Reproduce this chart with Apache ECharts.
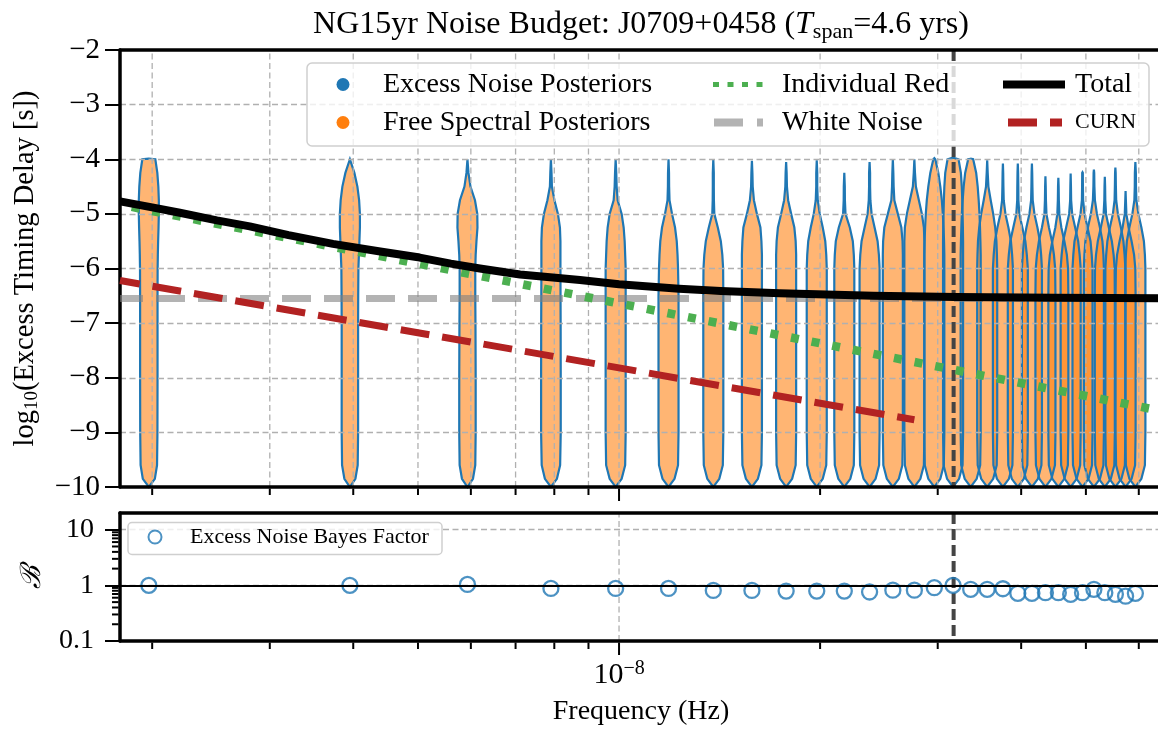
<!DOCTYPE html>
<html>
<head>
<meta charset="utf-8">
<title>NG15yr Noise Budget: J0709+0458</title>
<script src="https://cdn.jsdelivr.net/npm/echarts@6.0.0/dist/echarts.min.js"></script>
<style>
  html, body { margin: 0; padding: 0; background: #fff; overflow: hidden; }
  #chart { width: 1170px; height: 729px; }
</style>
</head>
<body>
<div id="chart"></div>
<script>
// ---------------- data ----------------
// Fourier bin frequencies (Hz)
const FREQS = [
  1.977e-9, 3.954e-9, 5.930e-9, 7.907e-9, 9.884e-9, 1.186e-8, 1.384e-8, 1.581e-8, 1.779e-8, 1.977e-8,
  2.174e-8, 2.372e-8, 2.570e-8, 2.768e-8, 2.965e-8, 3.163e-8, 3.361e-8, 3.558e-8, 3.756e-8, 3.954e-8,
  4.151e-8, 4.349e-8, 4.547e-8, 4.744e-8, 4.942e-8, 5.140e-8, 5.337e-8, 5.535e-8, 5.733e-8, 5.930e-8
];

// log10 delay levels at which the posterior densities are tabulated
const LEVELS = [-4.0, -4.25, -4.5, -4.75, -5.0, -5.25, -5.5, -5.75, -6.0, -6.5, -7.0, -8.0, -9.0, -9.6, -9.85, -10.0];

// upper end of each posterior (log10 delay)
const VIOLIN_TIP = [
  -3.99, -4.0, -4.0, -4.0, -4.0, -4.0, -4.0, -4.03, -4.05, -4.02,
  -4.25, -4.05, -4.0, -4.0, -3.98, -3.97, -3.99, -4.02, -4.08, -4.08,
  -4.08, -4.31, -4.34, -4.26, -4.24, -4.19, -4.32, -4.15, -4.58, -4.05
];

// relative posterior density at each level (1 = widest point)
const VIOLIN_PROFILES = [
  [0.65, 0.85, 0.95, 1.00, 1.00, 0.97, 0.93, 0.90, 0.88, 0.87, 0.87, 0.87, 0.86, 0.82, 0.60, 0],
  [0.05, 0.45, 0.75, 0.92, 1.00, 1.00, 0.95, 0.90, 0.85, 0.83, 0.82, 0.82, 0.82, 0.78, 0.55, 0],
  [0.03, 0.10, 0.30, 0.75, 0.98, 1.00, 0.90, 0.82, 0.78, 0.78, 0.80, 0.82, 0.82, 0.78, 0.55, 0],
  [0.03, 0.06, 0.10, 0.35, 0.70, 0.90, 0.95, 0.95, 0.95, 0.96, 0.97, 0.98, 0.98, 0.92, 0.60, 0],
  [0.03, 0.06, 0.10, 0.20, 0.60, 0.80, 0.90, 0.95, 1.00, 1.00, 1.00, 1.00, 1.00, 0.95, 0.60, 0],
  [0.03, 0.05, 0.06, 0.10, 0.35, 0.65, 0.82, 0.90, 0.95, 1.00, 1.00, 1.00, 1.00, 0.95, 0.60, 0],
  [0.03, 0.05, 0.05, 0.06, 0.10, 0.45, 0.75, 0.90, 0.98, 1.00, 1.00, 1.00, 1.00, 0.95, 0.60, 0],
  [0.03, 0.05, 0.08, 0.20, 0.50, 0.85, 0.95, 1.00, 1.00, 1.00, 1.00, 1.00, 1.00, 0.95, 0.60, 0],
  [0.03, 0.05, 0.08, 0.20, 0.50, 0.82, 0.95, 1.00, 1.00, 1.00, 1.00, 1.00, 1.00, 0.95, 0.60, 0],
  [0.03, 0.05, 0.05, 0.10, 0.30, 0.60, 0.85, 0.95, 1.00, 1.00, 1.00, 1.00, 1.00, 0.95, 0.60, 0],
  [0.00, 0.03, 0.05, 0.06, 0.12, 0.55, 0.85, 0.95, 1.00, 1.00, 1.00, 1.00, 1.00, 0.95, 0.60, 0],
  [0.03, 0.05, 0.05, 0.08, 0.20, 0.50, 0.80, 0.93, 1.00, 1.00, 1.00, 1.00, 1.00, 0.95, 0.60, 0],
  [0.03, 0.05, 0.08, 0.15, 0.50, 0.85, 0.97, 1.00, 1.00, 1.00, 1.00, 1.00, 1.00, 0.95, 0.60, 0],
  [0.03, 0.06, 0.15, 0.45, 0.75, 0.95, 1.00, 1.00, 1.00, 1.00, 1.00, 1.00, 1.00, 0.95, 0.60, 0],
  [0.10, 0.40, 0.60, 0.75, 0.85, 0.92, 0.97, 1.00, 1.00, 1.00, 1.00, 1.00, 1.00, 0.95, 0.60, 0],
  [0.55, 0.78, 0.87, 0.92, 0.95, 0.98, 1.00, 1.00, 1.00, 1.00, 1.00, 1.00, 1.00, 0.95, 0.60, 0],
  [0.25, 0.55, 0.70, 0.80, 0.88, 0.93, 0.97, 1.00, 1.00, 1.00, 1.00, 1.00, 1.00, 0.95, 0.60, 0],
  [0.03, 0.05, 0.12, 0.35, 0.60, 0.80, 0.92, 0.97, 1.00, 1.00, 1.00, 1.00, 1.00, 0.95, 0.60, 0],
  [0.00, 0.03, 0.05, 0.08, 0.25, 0.55, 0.80, 0.92, 1.00, 1.00, 1.00, 1.00, 1.00, 0.95, 0.60, 0],
  [0.00, 0.03, 0.05, 0.06, 0.15, 0.45, 0.75, 0.90, 1.00, 1.00, 1.00, 1.00, 1.00, 0.95, 0.60, 0],
  [0.00, 0.03, 0.05, 0.08, 0.25, 0.55, 0.80, 0.92, 1.00, 1.00, 1.00, 1.00, 1.00, 0.95, 0.60, 0],
  [0.00, 0.00, 0.03, 0.05, 0.10, 0.35, 0.65, 0.85, 0.97, 1.00, 1.00, 1.00, 1.00, 0.95, 0.60, 0],
  [0.00, 0.00, 0.03, 0.05, 0.10, 0.30, 0.60, 0.85, 0.97, 1.00, 1.00, 1.00, 1.00, 0.95, 0.60, 0],
  [0.00, 0.00, 0.03, 0.05, 0.15, 0.45, 0.75, 0.90, 1.00, 1.00, 1.00, 1.00, 1.00, 0.95, 0.60, 0],
  [0.00, 0.03, 0.04, 0.06, 0.20, 0.50, 0.80, 0.92, 1.00, 1.00, 1.00, 1.00, 1.00, 0.95, 0.60, 0],
  [0.00, 0.03, 0.05, 0.10, 0.30, 0.60, 0.85, 0.95, 1.00, 1.00, 1.00, 1.00, 1.00, 0.95, 0.60, 0],
  [0.00, 0.00, 0.03, 0.05, 0.12, 0.40, 0.70, 0.88, 0.98, 1.00, 1.00, 1.00, 1.00, 0.95, 0.60, 0],
  [0.00, 0.03, 0.05, 0.08, 0.25, 0.55, 0.80, 0.92, 1.00, 1.00, 1.00, 1.00, 1.00, 0.95, 0.60, 0],
  [0.00, 0.00, 0.00, 0.03, 0.08, 0.30, 0.60, 0.85, 0.97, 1.00, 1.00, 1.00, 1.00, 0.95, 0.60, 0],
  [0.03, 0.05, 0.06, 0.10, 0.30, 0.60, 0.85, 0.95, 1.00, 1.00, 1.00, 1.00, 1.00, 0.95, 0.60, 0]
];

// excess-noise Bayes factor per frequency bin
const BAYES_FACTOR = [
  1.00, 1.00, 1.04, 0.88, 0.88, 0.88, 0.81, 0.81, 0.79, 0.79,
  0.79, 0.76, 0.82, 0.82, 0.91, 1.00, 0.85, 0.85, 0.87, 0.72,
  0.72, 0.74, 0.74, 0.69, 0.74, 0.85, 0.74, 0.69, 0.64, 0.72
];

// total noise model
const TOTAL_FREQ  = [1.79e-9, 2.0e-9, 2.2e-9, 2.5e-9, 2.8e-9, 3.2e-9, 3.73e-9, 4.39e-9, 5.03e-9, 5.6e-9,
                     6.19e-9, 7.11e-9, 8.74e-9, 1.0e-8, 1.23e-8, 1.42e-8, 1.74e-8, 2.4e-8, 3.2e-8, 4.5e-8, 6.5e-8];
const TOTAL_DELAY = [-4.77, -4.88, -4.98, -5.12, -5.23, -5.39, -5.55, -5.69, -5.80, -5.91,
                     -6.00, -6.11, -6.21, -6.29, -6.37, -6.41, -6.455, -6.50, -6.52, -6.535, -6.546];

// intrinsic (individual) red noise power law
const RED_FREQ  = [1.79e-9, 1.0e-8, 6.5e-8];
const RED_DELAY = [-4.83, -6.64, -8.61];

// common uncorrelated red noise, first 14 bins
const CURN_FREQ  = [1.79e-9, 1.0e-8, 2.768e-8];
const CURN_DELAY = [-6.22, -7.82, -8.77];

// white noise level
const WHITE_DELAY = -6.55;

// 1 / yr
const YEAR_FREQ = 3.169e-8;

// axis limits and ticks
const F_MIN = 1.79e-9, F_MAX = 6.5e-8;
const DELAY_MIN = -10, DELAY_MAX = -2;
const BF_MIN = 0.1, BF_MAX = 20;
const F_MAJOR_TICKS = [1e-8];
const F_MINOR_TICKS = [2e-9, 3e-9, 4e-9, 5e-9, 6e-9, 7e-9, 8e-9, 9e-9, 2e-8, 3e-8, 4e-8, 5e-8, 6e-8];
const BF_MINOR_TICKS = [0.2, 0.3, 0.4, 0.5, 0.6, 0.7, 0.8, 0.9, 2, 3, 4, 5, 6, 7, 8, 9];

// ---------------- styling ----------------
const SERIF = 'Liberation Serif';
const BLUE = '#1f77b4', ORANGE = '#ff7f0e', GREEN = '#4caf50', RED = '#b22222';
const GRID_COLOR = '#b0b0b0';
const GRID_DASH = [6, 3.5];
const SPINE = { color: '#000', width: 3.5 };
const VIOLIN_HALF_DEC = 0.015;   // half width of a violin in decades of frequency
const YEAR_LINE = { color: '#444', width: 4, type: [11, 5], cap: 'butt' };

const pairs = (xs, ys) => xs.map((x, i) => [x, ys[i]]);
const minusFmt = v => (v < 0 ? '\u2212' + Math.abs(v) : String(v));

function violinPoints(i, api) {
  const f = FREQS[i], tip = VIOLIN_TIP[i], prof = VIOLIN_PROFILES[i];
  const side = [[tip, 0]];
  for (let j = 0; j < LEVELS.length; j++) {
    if (LEVELS[j] < tip - 1e-6) side.push([LEVELS[j], prof[j]]);
  }
  const left = side.map(([v, w]) => api.coord([f * Math.pow(10, -w * VIOLIN_HALF_DEC), v]));
  const right = side.slice().reverse().map(([v, w]) => api.coord([f * Math.pow(10, w * VIOLIN_HALF_DEC), v]));
  return left.concat(right);
}

// frequency ticks (and optional dashed grid lines) for one panel
function freqTickSeries(xi, yi, yLo, yHi, gridAll) {
  const data = F_MAJOR_TICKS.map(v => [v, 1]).concat(F_MINOR_TICKS.map(v => [v, 0]));
  return {
    type: 'custom', xAxisIndex: xi, yAxisIndex: yi, z: 1.5, silent: true,
    data: data,
    renderItem(params, api) {
      const v = api.value(0), major = api.value(1) === 1;
      const pb = api.coord([v, yLo]), pt = api.coord([v, yHi]);
      const children = [];
      if (gridAll || major) {
        children.push({ type: 'line', shape: { x1: pb[0], y1: pb[1], x2: pt[0], y2: pt[1] },
          style: { stroke: GRID_COLOR, lineWidth: 1.3, lineDash: GRID_DASH } });
      }
      children.push({ type: 'line', shape: { x1: pb[0], y1: pb[1] + 1.5, x2: pb[0], y2: pb[1] + (major ? 14 : 8) },
        style: { stroke: '#000', lineWidth: 2 } });
      return { type: 'group', children };
    }
  };
}

const violinData = FREQS.map((f, i) => [f, VIOLIN_TIP[i]]);
const legendText = { fontFamily: SERIF, fontSize: 28, lineHeight: 30, color: '#000' };

const chart = echarts.init(document.getElementById('chart'), null, { renderer: 'canvas' });

const option = {
  animation: false,
  textStyle: { fontFamily: SERIF, color: '#000' },
  grid: [
    { left: 120, top: 50, width: 1042, height: 437 },
    { left: 120, top: 513, width: 1042, height: 129 }
  ],
  xAxis: [
    { gridIndex: 0, type: 'log', min: F_MIN, max: F_MAX, position: 'bottom', z: 5,
      axisLine: { show: true, lineStyle: SPINE }, axisTick: { show: false }, axisLabel: { show: false }, splitLine: { show: false } },
    { gridIndex: 0, type: 'log', min: F_MIN, max: F_MAX, position: 'top', z: 5,
      axisLine: { show: true, lineStyle: SPINE }, axisTick: { show: false }, axisLabel: { show: false }, splitLine: { show: false } },
    { gridIndex: 1, type: 'log', min: F_MIN, max: F_MAX, position: 'bottom', z: 5,
      axisLine: { show: true, lineStyle: SPINE }, axisTick: { show: false }, splitLine: { show: false },
      axisLabel: {
        show: true, showMinLabel: false, showMaxLabel: false, margin: 18,
        formatter: v => '{b|10}{e|\u2212' + Math.abs(Math.round(Math.log10(v))) + '}',
        rich: {
          b: { fontFamily: SERIF, fontSize: 30, lineHeight: 32, color: '#000' },
          e: { fontFamily: SERIF, fontSize: 20, lineHeight: 22, verticalAlign: 'top', color: '#000' }
        }
      },
      name: 'Frequency (Hz)', nameLocation: 'middle', nameGap: 55,
      nameTextStyle: { fontFamily: SERIF, fontSize: 28, lineHeight: 32, color: '#000' } },
    { gridIndex: 1, type: 'log', min: F_MIN, max: F_MAX, position: 'top', z: 5,
      axisLine: { show: true, lineStyle: SPINE }, axisTick: { show: false }, axisLabel: { show: false }, splitLine: { show: false } }
  ],
  yAxis: [
    { gridIndex: 0, type: 'value', min: DELAY_MIN, max: DELAY_MAX, interval: 1, z: 1.5,
      axisLine: { show: true, lineStyle: SPINE },
      axisTick: { show: true, length: 15, lineStyle: { color: '#000', width: 2 } },
      axisLabel: { margin: 20, fontFamily: SERIF, fontSize: 29, color: '#000', formatter: minusFmt },
      splitLine: { show: true, showMinLine: false, showMaxLine: false, lineStyle: { color: GRID_COLOR, width: 1.3, type: GRID_DASH } },
      name: '{m|log}{s|10}{m|(Excess Timing Delay [s])}', nameLocation: 'middle', nameGap: 78,
      nameTextStyle: { rich: {
        m: { fontFamily: SERIF, fontSize: 28.5, lineHeight: 32, color: '#000' },
        s: { fontFamily: SERIF, fontSize: 19, lineHeight: 18, verticalAlign: 'bottom', color: '#000' }
      } } },
    { gridIndex: 1, type: 'log', min: BF_MIN, max: BF_MAX, z: 1.5,
      axisLine: { show: true, lineStyle: SPINE },
      axisTick: { show: true, length: 15, lineStyle: { color: '#000', width: 2 } },
      axisLabel: { margin: 26, fontFamily: SERIF, fontSize: 28, color: '#000', showMaxLabel: false,
        formatter: v => (v >= 1 ? String(Math.round(v)) : v.toFixed(1)) },
      splitLine: { show: true, showMinLine: false, showMaxLine: false, lineStyle: { color: GRID_COLOR, width: 1.3, type: GRID_DASH } },
      name: '\u212C', nameLocation: 'middle', nameGap: 52,
      nameTextStyle: { fontFamily: 'DejaVu Serif', fontStyle: 'italic', fontSize: 28, lineHeight: 30, color: '#000' } }
  ],
  legend: [
    { left: 308, top: 69.5, orient: 'vertical', padding: 0, itemGap: 8, itemWidth: 70, itemHeight: 13,
      selectedMode: false, itemStyle: { borderWidth: 0 }, textStyle: legendText,
      data: [
        { name: 'Excess Noise Posteriors', itemStyle: { color: BLUE },
          icon: 'path://M0,0 M70,13 M28.5,6.5a6.5,6.5 0 1,0 13,0a6.5,6.5 0 1,0 -13,0z' },
        { name: 'Free Spectral Posteriors', itemStyle: { color: ORANGE },
          icon: 'path://M0,0 M70,13 M28.5,6.5a6.5,6.5 0 1,0 13,0a6.5,6.5 0 1,0 -13,0z' }
      ] },
    { left: 713, top: 69.5, orient: 'vertical', padding: 0, itemGap: 8, itemWidth: 64, itemHeight: 8,
      selectedMode: false, itemStyle: { borderWidth: 0 }, textStyle: legendText,
      data: [
        { name: 'Individual Red', itemStyle: { color: GREEN },
          icon: 'path://M0,0 M64,8 M0,1.5h6v5h-6z M14.5,1.5h6v5h-6z M29,1.5h6v5h-6z M43.5,1.5h6v5h-6z' },
        { name: 'White Noise', itemStyle: { color: '#b3b3b3' },
          icon: 'path://M0,0 M64,8 M1,0h29v8h-29z M44,0h6v8h-6z' }
      ] },
    { left: 1003, top: 69.5, orient: 'vertical', padding: 0, itemGap: 8, itemWidth: 67, itemHeight: 8,
      selectedMode: false, itemStyle: { borderWidth: 0 },
      textStyle: Object.assign({}, legendText, {
        rich: { sc: { fontFamily: SERIF, fontSize: 22, lineHeight: 30, color: '#000' } } }),
      formatter: name => (name === 'CURN' ? '{sc|CURN}' : name),
      data: [
        { name: 'Total', itemStyle: { color: '#000' }, icon: 'path://M0,0 M67,8 M0,0h62v8h-62z' },
        { name: 'CURN', itemStyle: { color: RED }, icon: 'path://M0,0 M67,8 M5,0h29v8h-29z M47,0h12v8h-12z' }
      ] },
    { left: 125, top: 525, orient: 'vertical', padding: 0, itemWidth: 60, itemHeight: 15,
      selectedMode: false, itemStyle: { borderWidth: 0 },
      textStyle: { fontFamily: SERIF, fontSize: 22, lineHeight: 24, color: '#000' },
      data: [
        { name: 'Excess Noise Bayes Factor', itemStyle: { color: BLUE },
          icon: 'path://M0,0 M60,15 M22.5,7.5a7.5,7.5 0 1,0 15,0a7.5,7.5 0 1,0 -15,0z M24.5,7.5a5.5,5.5 0 1,1 11,0a5.5,5.5 0 1,1 -11,0z' }
      ] }
  ],
  graphic: [
    { type: 'text', x: 641, y: 25, z: 10, silent: true,
      style: {
        text: '{a|NG15yr Noise Budget: J0709+0458 (}{i|T}{s|span}{a|=4.6 yrs)}',
        align: 'center', verticalAlign: 'middle',
        rich: {
          a: { fontFamily: SERIF, fontSize: 32, lineHeight: 36, fill: '#000' },
          i: { fontFamily: SERIF, fontStyle: 'italic', fontSize: 32, lineHeight: 36, fill: '#000' },
          s: { fontFamily: SERIF, fontSize: 22, lineHeight: 21, verticalAlign: 'bottom', fill: '#000' }
        }
      } },
    { type: 'rect', z: 3, silent: true,
      shape: { x: 307, y: 63, width: 842, height: 83, r: 5 },
      style: { fill: 'rgba(255,255,255,0.8)', stroke: '#cfcfcf', lineWidth: 1.5 } },
    { type: 'rect', z: 3, silent: true,
      shape: { x: 128, y: 522.5, width: 314, height: 32, r: 4 },
      style: { fill: 'rgba(255,255,255,0.8)', stroke: '#cfcfcf', lineWidth: 1.5 } }
  ],
  series: [
    freqTickSeries(0, 0, DELAY_MIN, DELAY_MAX, true),
    freqTickSeries(2, 1, BF_MIN, BF_MAX, false),
    { // minor ticks of the Bayes-factor axis
      type: 'custom', xAxisIndex: 2, yAxisIndex: 1, z: 1.5, silent: true,
      data: BF_MINOR_TICKS.map(v => [F_MIN, v]),
      renderItem(params, api) {
        const p = api.coord([api.value(0), api.value(1)]);
        return { type: 'line', shape: { x1: p[0] - 1.5, y1: p[1], x2: p[0] - 8, y2: p[1] },
          style: { stroke: '#000', lineWidth: 2 } };
      }
    },
    {
      name: 'Free Spectral Posteriors', type: 'custom', xAxisIndex: 0, yAxisIndex: 0, z: 1, silent: true,
      itemStyle: { color: ORANGE }, encode: { x: 0, y: 1 }, data: violinData,
      renderItem(params, api) {
        return { type: 'polygon', shape: { points: violinPoints(params.dataIndex, api) },
          style: { fill: ORANGE, opacity: 0.58 } };
      }
    },
    {
      name: 'Excess Noise Posteriors', type: 'custom', xAxisIndex: 0, yAxisIndex: 0, z: 1.2, silent: true,
      itemStyle: { color: BLUE }, encode: { x: 0, y: 1 }, data: violinData,
      renderItem(params, api) {
        return { type: 'polygon', shape: { points: violinPoints(params.dataIndex, api) },
          style: { fill: 'none', stroke: BLUE, lineWidth: 2.2 } };
      }
    },
    {
      name: 'White Noise', type: 'line', xAxisIndex: 0, yAxisIndex: 0, z: 2, silent: true,
      symbol: 'none', data: [[F_MIN, WHITE_DELAY], [F_MAX, WHITE_DELAY]],
      lineStyle: { color: 'rgba(128,128,128,0.6)', width: 7, type: [29, 13], dashOffset: 6, cap: 'butt' }
    },
    { // 1/yr marker, upper panel
      type: 'line', xAxisIndex: 0, yAxisIndex: 0, z: 2.05, silent: true, symbol: 'none',
      data: [[YEAR_FREQ, DELAY_MAX], [YEAR_FREQ, DELAY_MIN]], lineStyle: YEAR_LINE
    },
    {
      name: 'CURN', type: 'line', xAxisIndex: 0, yAxisIndex: 0, z: 2.1, silent: true,
      symbol: 'none', data: pairs(CURN_FREQ, CURN_DELAY),
      lineStyle: { color: RED, width: 7, type: [29, 13], dashOffset: 9, cap: 'butt' }
    },
    {
      name: 'Individual Red', type: 'line', xAxisIndex: 0, yAxisIndex: 0, z: 2.2, silent: true,
      symbol: 'none', data: pairs(RED_FREQ, RED_DELAY),
      lineStyle: { color: GREEN, width: 8.5, type: [8, 13], dashOffset: 9, cap: 'butt' }
    },
    {
      name: 'Total', type: 'line', xAxisIndex: 0, yAxisIndex: 0, z: 2.3, silent: true,
      symbol: 'none', data: pairs(TOTAL_FREQ, TOTAL_DELAY),
      lineStyle: { color: '#000', width: 8, join: 'round' }
    },
    { // 1/yr marker, lower panel
      type: 'line', xAxisIndex: 2, yAxisIndex: 1, z: 2.05, silent: true, symbol: 'none',
      data: [[YEAR_FREQ, BF_MAX], [YEAR_FREQ, BF_MIN]], lineStyle: YEAR_LINE
    },
    {
      name: 'Excess Noise Bayes Factor', type: 'scatter', xAxisIndex: 2, yAxisIndex: 1, z: 3, silent: true,
      symbol: 'circle', symbolSize: 15,
      itemStyle: { color: 'rgba(0,0,0,0)', borderColor: BLUE, borderWidth: 2.3 },
      data: pairs(FREQS, BAYES_FACTOR),
      markLine: {
        silent: true, symbol: ['none', 'none'], label: { show: false },
        data: [ { yAxis: 1, lineStyle: { color: '#000', width: 2, type: 'solid' } } ]
      }
    }
  ]
};

chart.setOption(option);
</script>
</body>
</html>
